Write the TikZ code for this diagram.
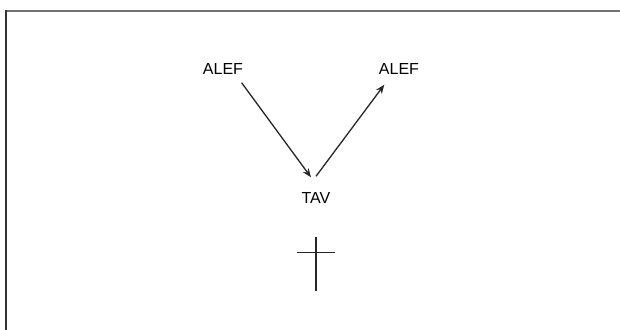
\documentclass[tikz,border=0pt]{standalone}
\usepackage{fontspec}
\setmainfont{Liberation Sans}
\usetikzlibrary{arrows.meta}
\begin{document}
\begin{tikzpicture}[x=1pt,y=-1pt,
  lbl/.style={inner sep=0pt,font=\fontsize{16}{18}\selectfont,text=black},
  arr/.style={draw=black!85,line width=1.3pt,-{Stealth[length=9pt,width=7pt]}},
  frameline/.style={line width=2pt},
  crossline/.style={draw=black!85,line width=1.4pt}]
\useasboundingbox (0,0) rectangle (620,329);
\draw[frameline,draw=black!55] (6,11) -- (621,11);
\draw[frameline,draw=black!80] (6,10) -- (6,330);
\node[lbl] (alefL) at (223,69) {ALEF};
\node[lbl] (alefR) at (399,69) {ALEF};
\node[lbl] (tav) at (316,198) {TAV};
\draw[arr] ([xshift=-1.6pt,yshift=-8pt]alefL.south east) -- ([xshift=-5pt,yshift=15pt]tav.north);
\draw[arr] ([yshift=16pt]tav.north) -- ([xshift=5.5pt,yshift=-10pt]alefR.south west);
\coordinate (crossTop) at (316,236.7);
\coordinate (crossBot) at (316,290.7);
\coordinate (barL) at (297.3,252.3);
\coordinate (barR) at (335.3,252.3);
\draw[crossline] (crossTop) -- (crossBot);
\draw[crossline] (barL) -- (barR);
\end{tikzpicture}
\end{document}
